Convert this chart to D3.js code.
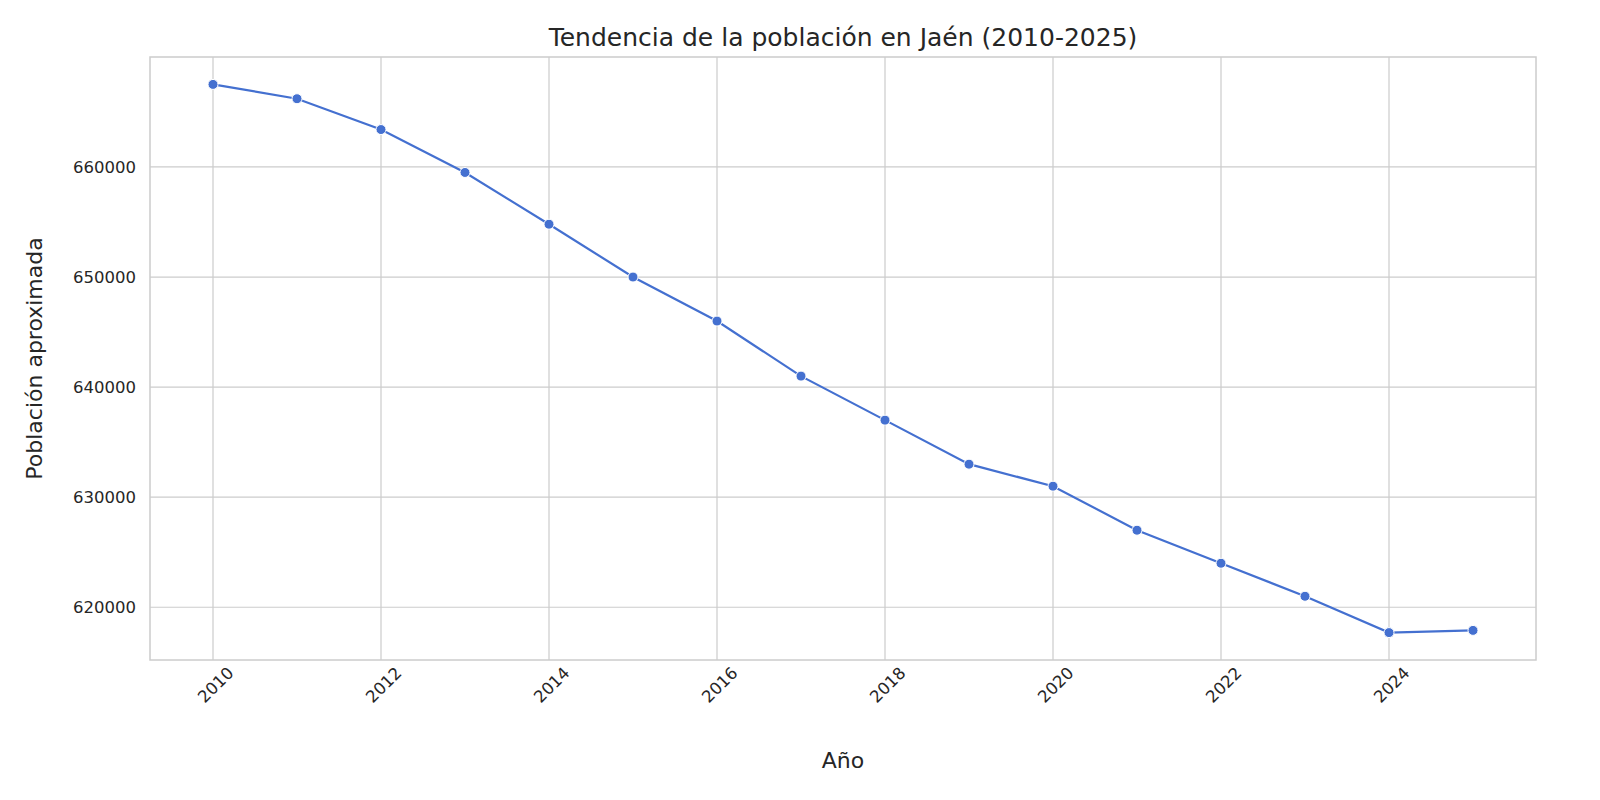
<!DOCTYPE html>
<html>
<head>
<meta charset="utf-8">
<script src="https://cdn.jsdelivr.net/npm/d3@7"></script>
<style>
  body { margin: 0; background: #fff; }
  text { font-family: "DejaVu Sans", sans-serif; }
</style>
</head>
<body>
<div id="wrapper"></div>
<script>
// data
const years = [2010, 2011, 2012, 2013, 2014, 2015, 2016, 2017, 2018, 2019, 2020, 2021, 2022, 2023, 2024, 2025];
const population = [667500, 666200, 663400, 659500, 654800, 650000, 646000, 641000, 637000, 633000, 631000, 627000, 624000, 621000, 617700, 617900];
const xTicks = [2010, 2012, 2014, 2016, 2018, 2020, 2022, 2024];
const yTicks = [620000, 630000, 640000, 650000, 660000];

const dataset = years.map((y, i) => ({ year: y, pop: population[i] }));

const dimensions = {
    width: 1600,
    height: 800,
    margin: { top: 57, right: 64, bottom: 140, left: 150 },
};
dimensions.boundedWidth = dimensions.width - dimensions.margin.left - dimensions.margin.right;
dimensions.boundedHeight = dimensions.height - dimensions.margin.top - dimensions.margin.bottom;

const svg = d3.select("#wrapper").append("svg")
    .attr("width", dimensions.width)
    .attr("height", dimensions.height);

const bounds = svg.append("g")
    .attr("transform", `translate(${dimensions.margin.left}, ${dimensions.margin.top})`);

// matplotlib-like 5% padding
const [x0, x1] = d3.extent(years);
const xPad = (x1 - x0) * 0.05;
const [y0, y1] = d3.extent(population);
const yPad = (y1 - y0) * 0.05;

const xScale = d3.scaleLinear().domain([x0 - xPad, x1 + xPad]).range([0, dimensions.boundedWidth]);
const yScale = d3.scaleLinear().domain([y0 - yPad, y1 + yPad]).range([dimensions.boundedHeight, 0]);

// grid
bounds.selectAll(".gx").data(xTicks).enter().append("line")
    .attr("x1", d => xScale(d)).attr("x2", d => xScale(d))
    .attr("y1", 0).attr("y2", dimensions.boundedHeight)
    .attr("stroke", "#cccccc").attr("stroke-width", 1.2);
bounds.selectAll(".gy").data(yTicks).enter().append("line")
    .attr("x1", 0).attr("x2", dimensions.boundedWidth)
    .attr("y1", d => yScale(d)).attr("y2", d => yScale(d))
    .attr("stroke", "#cccccc").attr("stroke-width", 1.2);

// frame
bounds.append("rect")
    .attr("width", dimensions.boundedWidth).attr("height", dimensions.boundedHeight)
    .attr("fill", "none").attr("stroke", "#cccccc").attr("stroke-width", 1.5);

// axes
const xAxis = bounds.append("g")
    .attr("transform", `translate(0, ${dimensions.boundedHeight})`)
    .call(d3.axisBottom(xScale).tickValues(xTicks).tickFormat(d3.format("d")).tickSize(0).tickPadding(10));
xAxis.select(".domain").remove();
xAxis.selectAll("text")
    .attr("font-size", 16.5).attr("fill", "#262626")
    .attr("text-anchor", "end")
    .attr("dx", "0.3em").attr("dy", "0.9em")
    .attr("transform", "rotate(-45)");

const yAxis = bounds.append("g")
    .call(d3.axisLeft(yScale).tickValues(yTicks).tickFormat(d3.format("d")).tickSize(0).tickPadding(14));
yAxis.select(".domain").remove();
yAxis.selectAll("text").attr("font-size", 16.5).attr("fill", "#262626");

// line + dots
const lineGenerator = d3.line()
    .x(d => xScale(d.year))
    .y(d => yScale(d.pop));

bounds.append("path")
    .attr("d", lineGenerator(dataset))
    .attr("fill", "none")
    .attr("stroke", "#4470d0")
    .attr("stroke-width", 2.2);

bounds.selectAll(".dot").data(dataset).enter().append("circle")
    .attr("cx", d => xScale(d.year))
    .attr("cy", d => yScale(d.pop))
    .attr("r", 5)
    .attr("fill", "#4470d0")
    .attr("stroke", "#fff").attr("stroke-width", 1);

// labels
svg.append("text")
    .attr("x", dimensions.margin.left + dimensions.boundedWidth / 2)
    .attr("y", 46)
    .attr("text-anchor", "middle")
    .attr("font-size", 25)
    .attr("fill", "#262626")
    .text("Tendencia de la población en Jaén (2010-2025)");

svg.append("text")
    .attr("x", dimensions.margin.left + dimensions.boundedWidth / 2)
    .attr("y", 768)
    .attr("text-anchor", "middle")
    .attr("font-size", 22)
    .attr("fill", "#262626")
    .text("Año");

svg.append("text")
    .attr("transform", `translate(42, ${dimensions.margin.top + dimensions.boundedHeight / 2}) rotate(-90)`)
    .attr("text-anchor", "middle")
    .attr("font-size", 22)
    .attr("fill", "#262626")
    .text("Población aproximada");
</script>
</body>
</html>
